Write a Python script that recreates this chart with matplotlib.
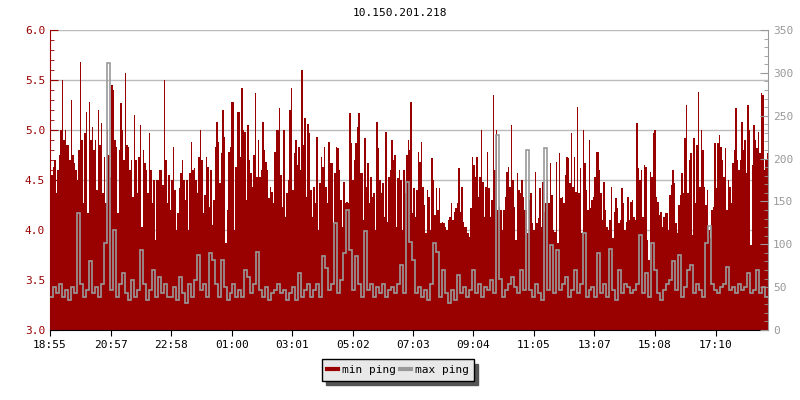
"""ping min / max sur 24 h pour 10.150.201.218"""

import matplotlib.pyplot as plt
from matplotlib.lines import Line2D
import numpy as np

plt.rcParams['font.family'] = 'DejaVu Sans Mono'

ROUGE = '#990000'
GRIS = '#999999'

# min ping : un point toutes les 3 minutes depuis 18:55
min_ping = np.array([
    4.57, 4.55, 4.63, 4.7, 4.37, 4.6, 4.75, 5.0, 5.5, 4.9,
    5.0, 4.85, 4.85, 4.7, 5.3, 4.75, 4.67, 4.6, 4.5, 4.8,
    5.68, 4.9, 4.27, 4.97, 5.18, 4.17, 5.28, 4.9, 5.03, 4.8,
    4.9, 4.4, 5.2, 4.85, 5.07, 4.37, 4.73, 4.27, 5.0, 4.75,
    4.53, 5.45, 5.4, 4.9, 4.83, 4.17, 4.8, 5.27, 5.0, 4.7,
    5.57, 4.85, 4.83, 4.6, 4.7, 4.33, 5.15, 4.7, 4.37, 4.73,
    5.05, 4.03, 4.8, 4.67, 4.6, 4.37, 4.97, 4.6, 4.27, 4.5,
    3.9, 4.5, 4.5, 4.6, 4.6, 4.45, 5.5, 4.7, 4.27, 4.55,
    4.2, 4.5, 4.83, 4.4, 4.0, 4.17, 4.42, 4.57, 4.7, 4.5,
    4.3, 4.5, 4.0, 4.57, 4.88, 4.6, 4.62, 4.5, 4.37, 4.73,
    5.0, 4.7, 4.17, 4.35, 4.73, 4.63, 4.23, 4.6, 4.05, 4.3,
    4.83, 5.08, 4.88, 4.47, 4.77, 5.2, 4.93, 3.87, 4.2, 4.78,
    4.83, 5.28, 5.28, 4.0, 4.63, 5.18, 5.18, 4.73, 5.42, 5.0,
    4.98, 4.3, 5.05, 4.7, 4.57, 4.43, 4.75, 5.37, 4.53, 4.9,
    4.53, 4.6, 5.08, 4.8, 4.68, 4.6, 4.32, 4.43, 4.38, 4.27,
    4.78, 5.0, 5.0, 5.22, 4.55, 4.23, 5.0, 4.13, 4.37, 4.5,
    5.2, 5.42, 4.4, 4.77, 4.9, 4.65, 4.83, 4.6, 5.6, 4.85,
    5.12, 4.33, 5.06, 4.97, 4.4, 4.13, 4.43, 4.27, 4.93, 4.0,
    4.47, 4.73, 4.63, 4.83, 4.43, 4.27, 4.88, 4.67, 4.67, 4.07,
    4.57, 4.83, 4.82, 4.6, 4.3, 4.03, 4.48, 4.27, 4.28, 4.27,
    5.17, 4.87, 4.5, 4.7, 4.87, 5.03, 5.17, 4.57, 4.57, 4.1,
    4.92, 4.43, 4.67, 4.27, 4.53, 4.33, 4.37, 4.0, 5.08, 4.82,
    4.5, 4.37, 4.47, 4.13, 4.98, 4.08, 4.53, 4.6, 4.9, 4.7,
    4.75, 4.03, 4.52, 4.6, 4.5, 4.0, 4.6, 4.37, 4.75, 4.9,
    4.8, 5.28, 4.17, 4.42, 4.13, 4.4, 4.78, 4.68, 4.88, 4.43,
    4.25, 3.97, 4.4, 4.33, 4.0, 4.72, 4.5, 4.15, 4.42, 4.2,
    4.42, 4.07, 4.08, 4.07, 4.03, 4.0, 4.1, 4.13, 4.27, 4.1,
    4.18, 4.22, 4.27, 4.62, 4.18, 4.43, 4.08, 4.03, 4.03, 3.97,
    3.93, 4.22, 4.73, 4.65, 4.53, 4.73, 4.33, 4.53, 5.0, 4.48,
    4.13, 4.43, 4.78, 4.42, 4.13, 4.3, 5.35, 4.6, 5.0, 4.2,
    4.23, 4.2, 4.0, 4.2, 4.33, 4.58, 4.63, 4.43, 5.05, 4.5,
    4.23, 3.9, 4.57, 4.4, 4.37, 4.5, 4.33, 4.2, 4.2, 3.97,
    4.3, 4.37, 4.07, 4.0, 4.58, 4.07, 4.12, 4.42, 4.03, 4.48,
    4.18, 4.27, 4.5, 4.27, 4.67, 4.35, 4.0, 3.98, 4.68, 3.87,
    4.77, 4.32, 4.33, 4.27, 4.55, 4.73, 4.72, 4.47, 4.97, 4.43,
    4.73, 4.38, 5.23, 4.37, 4.62, 3.97, 5.0, 4.67, 4.4, 4.2,
    4.9, 4.22, 4.3, 4.33, 4.53, 4.78, 4.78, 4.6, 4.37, 4.1,
    4.48, 4.2, 4.03, 4.0, 4.1, 4.43, 3.92, 4.18, 4.32, 4.22,
    4.07, 4.1, 4.42, 4.27, 4.0, 4.08, 4.33, 4.1, 4.28, 4.3,
    4.13, 4.1, 5.07, 4.62, 4.5, 4.6, 4.13, 4.65, 4.63, 3.9,
    3.7, 4.58, 4.53, 4.97, 5.0, 4.33, 4.28, 4.15, 4.18, 4.03,
    4.13, 4.17, 4.17, 4.0, 4.35, 4.45, 4.6, 4.47, 4.07, 3.97,
    4.25, 4.35, 4.57, 4.37, 4.92, 5.25, 4.37, 4.7, 4.77, 3.95,
    4.92, 4.27, 4.85, 5.38, 4.43, 5.0, 4.8, 4.43, 4.25, 4.4,
    4.0, 3.92, 4.2, 4.23, 4.87, 4.42, 4.87, 4.95, 4.83, 4.7,
    4.53, 4.82, 4.2, 4.5, 4.43, 4.27, 4.67, 4.8, 5.22, 4.7,
    4.6, 4.7, 5.08, 4.8, 4.9, 4.57, 5.25, 5.0, 3.85, 4.65,
    5.05, 4.9, 4.82, 4.98, 4.77, 5.37, 5.35, 4.6, 4.7, 4.77,
])

# max ping : un point toutes les 6 minutes depuis 18:55
max_ping = np.array([
    39, 50, 43, 54, 39, 47, 35, 50, 43, 136, 54, 39, 47, 80, 43, 50, 39, 54, 101, 311,
    47, 117, 39, 54, 66, 43, 35, 58, 39, 47, 93, 54, 35, 47, 70, 39, 62, 43, 54, 39,
    39, 50, 35, 62, 43, 31, 54, 39, 58, 87, 47, 54, 39, 90, 82, 54, 39, 82, 50, 35,
    43, 54, 39, 47, 39, 70, 62, 43, 54, 91, 47, 39, 50, 35, 43, 47, 54, 43, 47, 35,
    43, 50, 35, 66, 39, 47, 54, 39, 47, 54, 39, 86, 72, 47, 54, 125, 43, 58, 90, 140,
    93, 47, 86, 54, 39, 115, 47, 54, 39, 50, 43, 54, 39, 47, 50, 43, 54, 76, 43, 173,
    103, 82, 43, 50, 39, 47, 35, 54, 101, 91, 39, 70, 43, 31, 47, 35, 64, 43, 50, 39,
    47, 70, 43, 54, 39, 50, 47, 58, 43, 228, 60, 39, 47, 54, 62, 50, 43, 70, 47, 210,
    47, 39, 54, 43, 35, 212, 47, 99, 43, 93, 47, 54, 62, 39, 47, 70, 43, 54, 113, 39,
    47, 50, 39, 90, 43, 54, 39, 95, 47, 35, 70, 43, 54, 50, 43, 47, 54, 111, 43, 66,
    39, 101, 70, 43, 35, 47, 54, 58, 80, 47, 87, 39, 50, 70, 76, 43, 54, 47, 39, 101,
    121, 54, 47, 43, 50, 54, 74, 47, 50, 43, 54, 47, 50, 66, 43, 47, 70, 43, 50, 39,
])

heures = ["18:55", "20:57", "22:58", "01:00", "03:01", "05:02",
          "07:03", "09:04", "11:05", "13:07", "15:08", "17:10"]


def minutes(h):
    """minutes écoulées depuis 18:55"""
    hh, mm = map(int, h.split(":"))
    return (hh * 60 + mm - (18 * 60 + 55)) % 1440


bords_min = np.linspace(0, 1440, len(min_ping) + 1)
bords_max = np.linspace(0, 1440, len(max_ping) + 1)

fig = plt.figure(figsize=(8, 4), dpi=100)
ax = fig.add_axes([0.0625, 0.175, 0.8975, 0.75])
ax2 = ax.twinx()

ax.stairs(min_ping, bords_min, baseline=3.0, fill=True, color=ROUGE, lw=0, zorder=2)
ax2.stairs(max_ping, bords_max, baseline=None, color=GRIS, lw=1.2)

ax.set_xlim(0, 1440)
ax.set_ylim(3, 6)
ax2.set_ylim(0, 350)

ax.set_yticks(np.arange(3, 6.01, 0.5))
ax.set_yticklabels([f"{v:.1f}" for v in np.arange(3, 6.01, 0.5)])
ax.set_yticks(np.arange(3, 6.01, 0.1), minor=True)
ax.tick_params(axis='y', which='both', direction='in', colors=ROUGE, labelsize=8)
ax.tick_params(axis='y', which='major', length=6)
ax.tick_params(axis='y', which='minor', length=3)
ax.grid(axis='y', color='#bbbbbb', lw=1)
ax.set_axisbelow(True)

ax.set_xticks([minutes(h) for h in heures])
ax.set_xticklabels(heures)
ax.tick_params(axis='x', direction='out', length=4, colors='black', labelsize=8)

ax2.set_yticks(np.arange(0, 351, 50))
ax2.set_yticks(np.arange(0, 351, 10), minor=True)
ax2.tick_params(axis='y', which='both', direction='in', colors=GRIS, labelsize=8)
ax2.tick_params(axis='y', which='major', length=6)
ax2.tick_params(axis='y', which='minor', length=3)

ax.spines['top'].set_visible(False)
ax.spines['right'].set_visible(False)
ax.spines['left'].set_color(ROUGE)
ax.spines['bottom'].set_color('black')
ax2.spines['top'].set_visible(False)
ax2.spines['left'].set_visible(False)
ax2.spines['bottom'].set_visible(False)
ax2.spines['right'].set_color(GRIS)

fig.text(0.5, 1 - 13 / 400, "10.150.201.218", ha='center', va='center', fontsize=8)

poignees = [Line2D([], [], color=ROUGE, lw=3), Line2D([], [], color=GRIS, lw=3)]
leg = fig.legend(poignees, ["min ping", "max ping"], loc='center',
                 bbox_to_anchor=(398 / 800, 1 - 370 / 400), ncol=2, fontsize=8,
                 frameon=True, fancybox=False, edgecolor='black', facecolor='#e8e8e8',
                 handlelength=1.0, handletextpad=0.3, columnspacing=0.4, borderpad=0.5,
                 shadow={'ox': 3, 'oy': -3, 'color': '#555555', 'alpha': 1})
leg.get_frame().set_linewidth(1)
leg.get_frame().set_alpha(1)

fig.savefig("out.png", dpi=100)
